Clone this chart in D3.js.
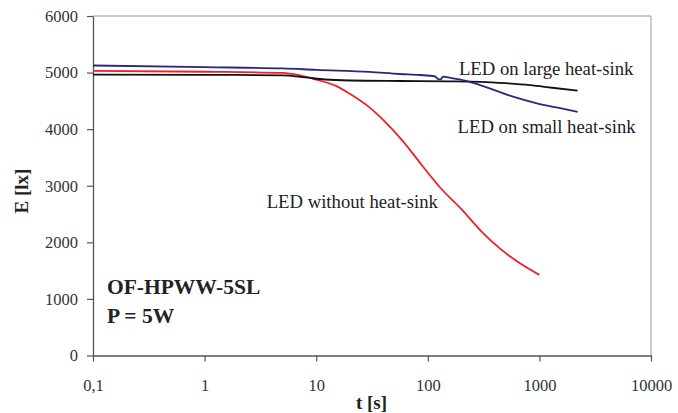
<!DOCTYPE html>
<html>
<head>
<meta charset="utf-8">
<script src="https://cdn.jsdelivr.net/npm/d3@7"></script>
<style>
  body { margin: 0; background: #fff; }
  svg { display: block; }
</style>
</head>
<body>
<script>
const width = 678;
const height = 413;
const margin = { top: 16, right: 27, bottom: 57.5, left: 93 };

// measured data, t [s] vs E [lx]
const ledNoSink = [
  [0.1, 5030], [1, 5015], [5, 4995], [7, 4955], [10, 4875], [15, 4765],
  [20, 4625], [30, 4385], [40, 4160], [60, 3785], [90, 3345], [130, 2960],
  [200, 2585], [300, 2200], [450, 1880], [670, 1630], [1000, 1425],
];
const ledLargeSink = [
  [0.1, 4965], [1, 4960], [5, 4952], [8, 4915], [12, 4878], [20, 4860],
  [56, 4851], [150, 4846], [300, 4836], [500, 4812], [824, 4778], [1300, 4732],
  [2200, 4680],
];
const ledSmallSink = [
  [0.1, 5125], [1, 5095], [5, 5075], [10, 5048], [30, 5012], [56, 4975],
  [85, 4957], [115, 4935], [124, 4885], [130, 4880], [137, 4930], [160, 4905],
  [224, 4851], [294, 4780], [580, 4575], [950, 4457], [1500, 4375], [2200, 4307],
];

const xTicks = [0.1, 1, 10, 100, 1000, 10000];
const yTicks = [0, 1000, 2000, 3000, 4000, 5000, 6000];

const series = [
  { name: 'LED without heat-sink', values: ledNoSink, color: '#ee2028' },
  { name: 'LED on large heat-sink', values: ledLargeSink, color: '#111111' },
  { name: 'LED on small heat-sink', values: ledSmallSink, color: '#27297a' },
];

const x = d3.scaleLog()
  .domain([0.1, 10000])
  .range([margin.left, width - margin.right]);

const y = d3.scaleLinear()
  .domain([0, 6000])
  .range([height - margin.bottom, margin.top]);

const serif = '"Liberation Serif", "Times New Roman", serif';

const svg = d3.select('body')
  .append('svg')
  .attr('width', width)
  .attr('height', height)
  .attr('viewBox', [0, 0, width, height])
  .style('font-family', serif)
  .style('fill', '#222');

// frame: top and right in light grey
svg.append('path')
  .attr('d', `M${x(0.1)},${y(6000)}H${x(10000)}V${y(0)}`)
  .attr('fill', 'none')
  .attr('stroke', '#999')
  .attr('stroke-width', 1);

const fmt = d => String(d).replace('.', ',');

const xAxis = svg.append('g')
  .attr('transform', `translate(0,${y(0)})`)
  .call(d3.axisBottom(x).tickValues(xTicks).tickFormat(fmt).tickSize(6).tickPadding(18).tickSizeOuter(0));

const yAxis = svg.append('g')
  .attr('transform', `translate(${x(0.1)},0)`)
  .call(d3.axisLeft(y).tickValues(yTicks).tickFormat(d3.format('d')).tickSize(6).tickPadding(9).tickSizeOuter(0));

[xAxis, yAxis].forEach(a => {
  a.attr('font-family', serif);
  a.select('.domain').attr('stroke', '#555').attr('stroke-width', 1.3);
  a.selectAll('.tick line').attr('stroke', '#555').attr('stroke-width', 1.2);
  a.selectAll('.tick text')
    .attr('fill', '#333')
    .style('font-size', '16.5px')
    .style('font-family', serif);
});

const line = d3.line()
  .x(d => x(d[0]))
  .y(d => y(d[1]))
  .curve(d3.curveMonotoneX);

svg.append('g')
  .selectAll('path')
  .data(series)
  .join('path')
    .attr('fill', 'none')
    .attr('stroke', d => d.color)
    .attr('stroke-width', 1.8)
    .attr('stroke-linejoin', 'round')
    .attr('d', d => line(d.values));

// curve labels
const labels = [
  { text: 'LED on large heat-sink', t: 190, e: 4957 },
  { text: 'LED on small heat-sink', t: 185, e: 3932 },
  { text: 'LED without heat-sink', t: 3.6, e: 2607 },
];

svg.append('g')
  .selectAll('text')
  .data(labels)
  .join('text')
    .attr('x', d => x(d.t))
    .attr('y', d => y(d.e))
    .attr('fill', '#222')
    .style('font-size', '18.7px')
    .text(d => d.text);

const note = svg.append('g')
  .style('font-size', '21.5px')
  .style('font-weight', 'bold')
  .attr('fill', '#222');

note.append('text').attr('x', 107).attr('y', 294).text('OF-HPWW-5SL');
note.append('text').attr('x', 107).attr('y', 323).text('P = 5W');

svg.append('text')
  .attr('x', (x(0.1) + x(10000)) / 2 - 0.5)
  .attr('y', 409)
  .attr('text-anchor', 'middle')
  .style('font-size', '19px')
  .style('font-weight', 'bold')
  .attr('fill', '#222')
  .text('t [s]');

svg.append('text')
  .attr('transform', `translate(28,191) rotate(-90)`)
  .attr('text-anchor', 'middle')
  .style('font-size', '19px')
  .style('font-weight', 'bold')
  .attr('fill', '#222')
  .text('E [lx]');
</script>
</body>
</html>
